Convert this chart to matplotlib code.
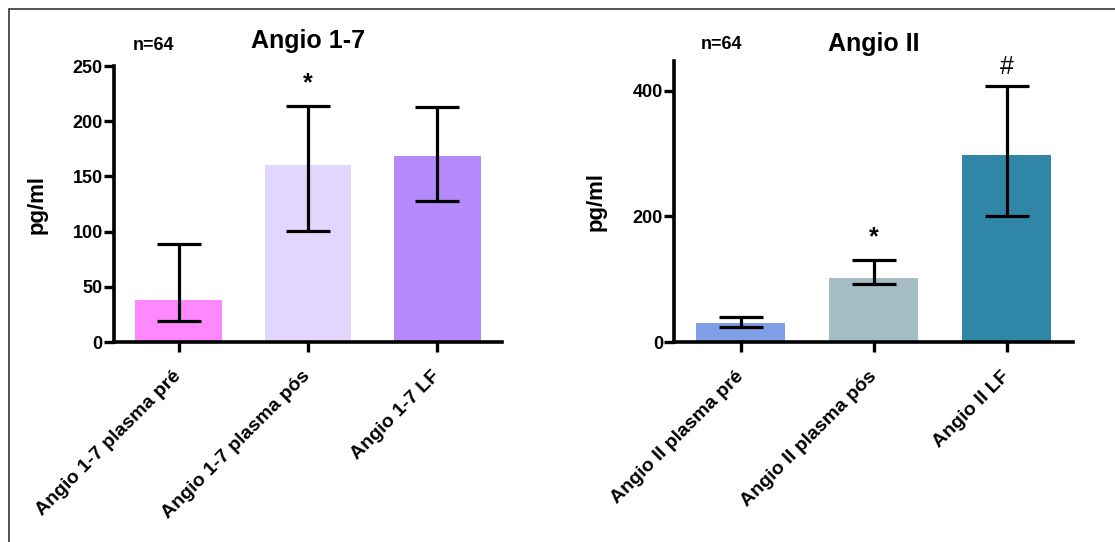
import numpy as np
import matplotlib
matplotlib.use("Agg")
import matplotlib.pyplot as plt
from matplotlib.patches import Rectangle

plt.rcParams['font.family'] = ['Liberation Sans', 'DejaVu Sans']
plt.rcParams['font.weight'] = 'bold'

# Angio 1-7 (pg/ml): bar height with lower / upper whisker
a17_labels = ["Angio 1-7 plasma pré", "Angio 1-7 plasma pós", "Angio 1-7 LF"]
a17_vals = [38, 160, 169]
a17_low = [19, 101, 128]
a17_high = [89, 214, 213]
a17_colors = ["#FF88FF", "#E3D6FE", "#B48AFC"]
a17_marks = ["", "*", ""]
a17_mark_y = [0, 234, 0]

# Angio II (pg/ml)
a2_labels = ["Angio II plasma pré", "Angio II plasma pós", "Angio II LF"]
a2_vals = [31, 102, 298]
a2_low = [25, 92, 201]
a2_high = [40, 130, 407]
a2_colors = ["#7F9FE6", "#A5BCC2", "#2F86A6"]
a2_marks = ["", "*", "#"]
a2_mark_y = [0, 166, 438]

fig = plt.figure(figsize=(11.15, 5.42), dpi=100)

# outer frame
fig.patches.append(Rectangle((9 / 1115, -0.05), 1.1, 1 - 9 / 542 + 0.05,
                             transform=fig.transFigure, fill=False,
                             edgecolor="#333333", linewidth=1.2))


def panel(rect, title, labels, vals, low, high, colors, marks, mark_y,
          ymax, yticks, title_y, n_pos):
    ax = fig.add_axes(rect)
    x = np.arange(len(vals))
    vals = np.array(vals)
    err = [vals - np.array(low), np.array(high) - vals]
    ax.bar(x, vals, width=0.67, color=colors, zorder=1)
    ax.errorbar(x, vals, yerr=err, fmt='none', ecolor='black',
                elinewidth=2.3, capsize=16, capthick=2.3, zorder=2)
    for xi, m, my in zip(x, marks, mark_y):
        if m:
            ax.text(xi, my, m, ha='center', va='center', fontsize=18,
                    fontweight='normal' if m == '#' else 'bold')
    ax.set_xlim(-0.5, len(vals) - 0.5)
    ax.set_ylim(0, ymax)
    ax.set_yticks(yticks)
    ax.set_xticks(x)
    ax.set_xticklabels(labels, rotation=45, ha='right', va='center',
                       rotation_mode='anchor', fontsize=14, fontweight='bold')
    for lbl in ax.get_yticklabels():
        lbl.set_fontsize(13)
        lbl.set_fontweight('bold')
    ax.spines['top'].set_visible(False)
    ax.spines['right'].set_visible(False)
    for s in ('left', 'bottom'):
        ax.spines[s].set_linewidth(2.6)
    ax.tick_params(axis='y', length=7, width=2.4, pad=1)
    ax.tick_params(axis='x', length=7, width=2.4, pad=16)
    ax.set_ylabel("pg/ml", fontsize=16, fontweight='bold')
    ax.yaxis.set_label_coords(-0.17, 0.5)
    ax.text(0.5, title_y, title, transform=ax.transAxes, ha='center',
            va='center', fontsize=18, fontweight='bold')
    ax.text(n_pos[0], n_pos[1], "n=64", transform=ax.transAxes, ha='center',
            va='center', fontsize=13, fontweight='bold')
    return ax


panel([0.1022, 0.369, 0.348, 0.509], "Angio 1-7", a17_labels, a17_vals,
      a17_low, a17_high, a17_colors, a17_marks, a17_mark_y,
      250, [0, 50, 100, 150, 200, 250], 1.09, (0.103, 1.076))
panel([0.6045, 0.3685, 0.358, 0.519], "Angio II", a2_labels, a2_vals,
      a2_low, a2_high, a2_colors, a2_marks, a2_mark_y,
      447, [0, 200, 400], 1.06, (0.118, 1.057))

fig.savefig("out.png", dpi=100)
